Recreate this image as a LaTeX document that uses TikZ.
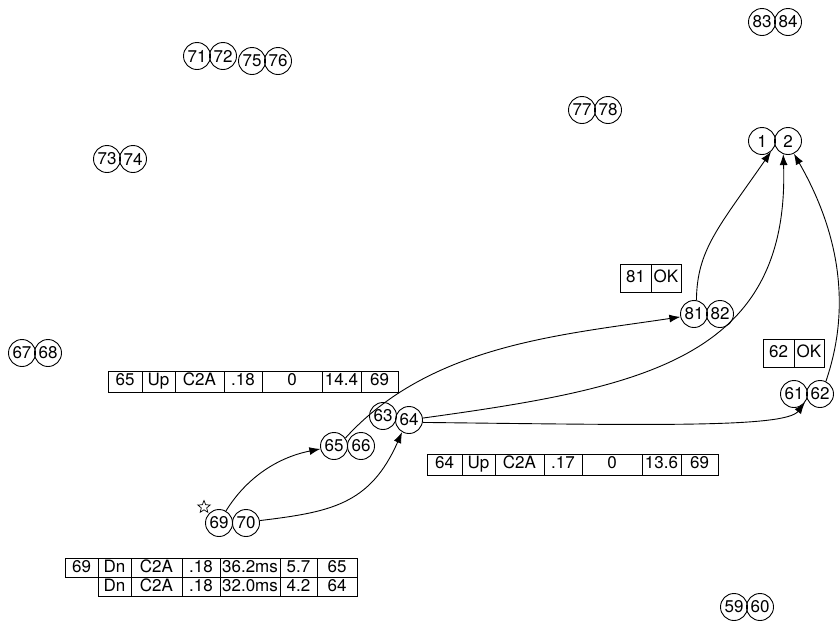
\documentclass[tikz,border=0pt]{standalone}
\usepackage{fontspec}
\setmainfont{TeX Gyre Heros}
\usetikzlibrary{arrows.meta,shapes.geometric}
\begin{document}
\begin{tikzpicture}[x=1pt,y=1pt,
  pc/.style={circle,draw,line width=0.9pt,minimum size=27pt,inner sep=0pt,font=\fontsize{17}{19}\selectfont},
  cell/.style={rectangle,draw,line width=0.9pt,inner sep=0pt,text height=12pt,text depth=3.5pt,font=\fontsize{17}{19}\selectfont},
  arr/.style={line width=0.9pt,-{Latex[length=11pt,width=8pt]}},
  ln/.style={line width=0.9pt}]
\useasboundingbox (0,0) rectangle (840,-625);
% circles
\foreach \n/\x/\y in {71/197/56,72/223/56,75/252/61,76/278/61,83/762/22,84/788/22,
  77/582/110,78/608/110,1/762/141,2/788/141,73/107/159,74/133/159,67/22/353,68/48/353,
  81/694/314,82/720/314,61/794/394,62/820/394,63/383/416,64/409/420,65/334/446,66/361/446,
  69/219/523,70/246/523,59/734/607,60/760/607}
  \node[pc] (c\n) at (\x,-\y) {\n};
% star
\node[star,star points=5,star point ratio=2.3,draw,line width=0.7pt,minimum size=13pt,inner sep=0pt] (star) at (204,-507) {};
% table 65
\foreach \i/\x/\w/\t in {1/125/34/65,2/158.5/33/Up,3/199.5/49/C2A,4/243/38/.18,5/292/60/0,6/341.5/39/14.4,7/379.5/37/69}
  \node[cell,minimum width=\w pt,minimum height=21pt] (ta\i) at (\x,-381.5) {\t};
% table 64
\foreach \i/\x/\w/\t in {1/444.5/35/64,2/478.5/33/Up,3/519.5/49/C2A,4/563/38/.17,5/612/60/0,6/661.5/39/13.6,7/699.5/37/69}
  \node[cell,minimum width=\w pt,minimum height=21pt] (tb\i) at (\x,-464.5) {\t};
% table 69
\foreach \i/\x/\w/\t in {1/81.5/33/69,2/114.5/33/Dn,3/156.5/51/C2A,4/201/38/.18,5/250/60/36.2ms,6/298.5/37/5.7,7/337/40/65}
  \node[cell,minimum width=\w pt,minimum height=19pt,text height=11.5pt,text depth=2pt] (tc\i) at (\x,-567.5) {\t};
\foreach \i/\x/\w/\t in {2/114.5/33/Dn,3/156.5/51/C2A,4/201/38/.18,5/250/60/32.0ms,6/298.5/37/4.2,7/337/40/64}
  \node[cell,minimum width=\w pt,minimum height=19pt,text height=11.5pt,text depth=2pt] (td\i) at (\x,-586.5) {\t};
% OK boxes
\node[cell,minimum width=31pt,minimum height=28pt] (ok81a) at (635.5,-278.5) {81};
\node[cell,minimum width=30pt,minimum height=28pt] (ok81b) at (666,-278.5) {OK};
\node[cell,minimum width=31pt,minimum height=28pt] (ok62a) at (778.5,-353) {62};
\node[cell,minimum width=30pt,minimum height=28pt] (ok62b) at (809,-353) {OK};
% connectors
\draw[arr] (c69.60) .. controls (245,-480) and (275,-458) .. (c65.192);
\draw[arr] (c70.10) .. controls (330,-512) and (370,-505) .. (c64.240);
\draw[arr] (c65.35) .. controls (430,-345) and (560,-335) .. (c81.192);
\draw[arr] (c64.8) .. controls (640,-388) and (790,-360) .. (c2.250);
\draw[arr] (c64.350) .. controls (650,-425) and (785,-428) .. (c61.320);
\draw[arr] (c81.80) .. controls (697,-250) and (718,-228) .. (c1.310);
\draw[arr] (c62.65) .. controls (840,-340) and (856,-262) .. (c2.295);
\end{tikzpicture}
\end{document}
